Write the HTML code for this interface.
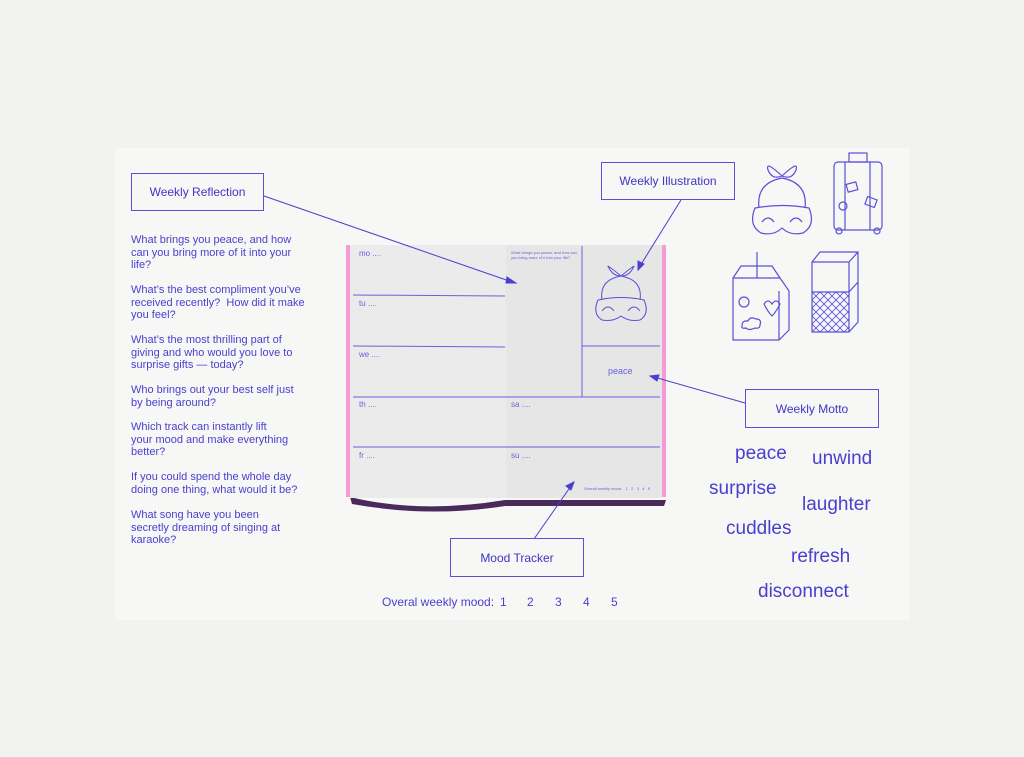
<!DOCTYPE html>
<html><head><meta charset="utf-8"><style>
body{margin:0;width:1024px;height:757px;background:#f2f2f1;font-family:"Liberation Sans",sans-serif;color:#4a3fcf;position:relative;overflow:hidden}
.panel{position:absolute;left:115px;top:148px;width:795px;height:472px;background:#f7f7f6}
.box{position:absolute;border:1px solid #5a50d6;background:#f7f7f6;display:flex;align-items:center;justify-content:center;font-size:12px;color:#3f35c4}
.q{position:absolute;left:131px;font-size:11px;line-height:12.5px;white-space:nowrap;color:#4a3fcf}
.w{position:absolute;font-size:19px;color:#4a3fcf}
.t{position:absolute;font-size:7px;color:#6a62d8}
.n{position:absolute;top:595px;font-size:12px}
</style></head><body>
<div class="panel"></div>
<svg width="1024" height="757" style="position:absolute;left:0;top:0">
<path d="M350 497 Q420 514 505 500 L666 500 L664 506 L505 506 Q430 518 352 504Z" fill="#4a2a5a"/>
<rect x="346" y="245" width="4" height="252" fill="#f59ad4"/>
<rect x="662" y="245" width="4" height="252" fill="#f59ad4"/>
<rect x="350" y="245" width="156" height="253" fill="#ebebeb"/>
<rect x="506" y="245" width="156" height="253" fill="#e6e6e6"/>
<g stroke="#6a60dc" stroke-width="1" fill="none">
<line x1="353" y1="295" x2="505" y2="296"/>
<line x1="353" y1="346" x2="505" y2="347"/>
<line x1="353" y1="397" x2="660" y2="397"/>
<line x1="353" y1="447" x2="660" y2="447"/>
<line x1="582" y1="246" x2="582" y2="397"/>
<line x1="582" y1="346" x2="660" y2="346"/>
</g>
<g stroke="#5a50d6" stroke-width="1" fill="none">
<path d="M602 300 Q599 280 621 276 Q643 280 640 300"/>
<path d="M621 276 Q604 262 609 268 Q613 276 621 276 Q638 262 633 268 Q629 276 621 276"/>
<path d="M598 300 Q621 295 644 300 Q650 314 640 320 Q629 322 621 316 Q613 322 602 320 Q592 314 598 300Z"/>
<path d="M602 311 Q608 303 614 311 M628 311 Q634 303 640 311"/>
</g>
<g stroke="#4a3fcf" stroke-width="1" fill="#4a3fcf">
<line x1="264" y1="196" x2="512" y2="282"/><path d="M516 283 L507 277 L506 283Z"/>
<line x1="681" y1="200" x2="640" y2="266"/><path d="M638 270 L638 261 L644 264Z"/>
<line x1="745" y1="403" x2="654" y2="377"/><path d="M650 376 L659 375 L657 381Z"/>
<line x1="534" y1="539" x2="571" y2="486"/><path d="M574 482 L566 486 L571 490Z"/>
</g>
<g stroke="#5a50d6" stroke-width="1.2" fill="none">
<path d="M759 208 Q756 183 782 178 Q808 183 805 208"/>
<path d="M782 176 Q765 160 768 170 Q772 180 782 176 Q799 160 796 170 Q792 180 782 176"/>
<path d="M755 208 Q782 203 809 208 Q816 225 803 233 Q790 236 782 228 Q774 236 761 233 Q748 225 755 208Z"/>
<path d="M762 222 Q768 214 774 222 M790 222 Q796 214 802 222"/>
<rect x="834" y="162" width="48" height="68" rx="4"/><rect x="849" y="153" width="18" height="9"/>
<line x1="845" y1="162" x2="845" y2="230"/><line x1="870" y1="162" x2="870" y2="230"/>
<rect x="847" y="183" width="10" height="8" transform="rotate(-15 852 187)"/><rect x="866" y="198" width="10" height="8" transform="rotate(20 871 202)"/>
<circle cx="843" cy="206" r="4"/><circle cx="839" cy="231" r="3"/><circle cx="877" cy="231" r="3"/>
<path d="M733 278 L780 278 L789 291 L789 330 L779 340 L733 340Z M733 278 L741 266 L772 266 L780 278 M779 291 L779 340"/>
<line x1="757" y1="252" x2="757" y2="278"/><circle cx="744" cy="302" r="5"/><path d="M764 304 q4-6 8 0 q4-6 8 0 q-4 8-8 12 q-4-4-8-12Z"/>
<path d="M742 326 q0-6 6-5 q2-5 8-2 q6 0 4 6 q0 4-5 3 q-6 3-9 0 q-5 1-4-2Z"/>
<path d="M812 262 L820 252 L858 252 L858 322 L849 332 L812 332 Z M849 262 L849 332 M849 262 L858 252 M812 262 L849 262 M812 292 L849 292 L858 282"/>
</g>
<pattern id="h" width="8" height="8" patternUnits="userSpaceOnUse"><path d="M0 0L8 8M8 0L0 8" stroke="#5a50d6" stroke-width="0.8"/></pattern>
<rect x="812" y="292" width="37" height="40" fill="url(#h)"/>
</svg>
<div class="t" style="left:359px;top:249px;font-size:8px">mo ....</div>
<div class="t" style="left:359px;top:299px;font-size:8px">tu ....</div>
<div class="t" style="left:359px;top:350px;font-size:8px">we ....</div>
<div class="t" style="left:359px;top:400px;font-size:8px">th ....</div>
<div class="t" style="left:359px;top:451px;font-size:8px">fr ....</div>
<div class="t" style="left:511px;top:400px;font-size:8px">sa ....</div>
<div class="t" style="left:511px;top:451px;font-size:8px">su ....</div>
<div class="t" style="left:511px;top:250px;font-size:4px;width:70px">What brings you peace, and how can you bring more of it into your life?</div>
<div class="t" style="left:584px;top:486px;font-size:4px">Overall weekly mood: &nbsp; 1 &nbsp; 2 &nbsp; 3 &nbsp; 4 &nbsp; 5</div>
<div class="t" style="left:608px;top:366px;font-size:9px">peace</div>
<div class="box" style="left:131px;top:173px;width:131px;height:36px">Weekly Reflection</div>
<div class="box" style="left:601px;top:162px;width:132px;height:36px">Weekly Illustration</div>
<div class="box" style="left:745px;top:389px;width:132px;height:37px">Weekly Motto</div>
<div class="box" style="left:450px;top:538px;width:132px;height:37px">Mood Tracker</div>
<div class="q" style="top:234px">What brings you peace, and how<br>can you bring more of it into your<br>life?</div>
<div class="q" style="top:284px">What’s the best compliment you’ve<br>received recently? &nbsp;How did it make<br>you feel?</div>
<div class="q" style="top:334px">What’s the most thrilling part of<br>giving and who would you love to<br>surprise gifts — today?</div>
<div class="q" style="top:384px">Who brings out your best self just<br>by being around?</div>
<div class="q" style="top:421px">Which track can instantly lift<br>your mood and make everything<br>better?</div>
<div class="q" style="top:471px">If you could spend the whole day<br>doing one thing, what would it be?</div>
<div class="q" style="top:509px">What song have you been<br>secretly dreaming of singing at<br>karaoke?</div>
<div class="n" style="left:382px">Overal weekly mood:</div>
<div class="n" style="left:500px">1</div><div class="n" style="left:527px">2</div><div class="n" style="left:555px">3</div><div class="n" style="left:583px">4</div><div class="n" style="left:611px">5</div>
<div class="w" style="left:735px;top:443px">peace</div>
<div class="w" style="left:812px;top:448px">unwind</div>
<div class="w" style="left:709px;top:478px">surprise</div>
<div class="w" style="left:802px;top:494px">laughter</div>
<div class="w" style="left:726px;top:518px">cuddles</div>
<div class="w" style="left:791px;top:546px">refresh</div>
<div class="w" style="left:758px;top:581px">disconnect</div>
</body></html>
